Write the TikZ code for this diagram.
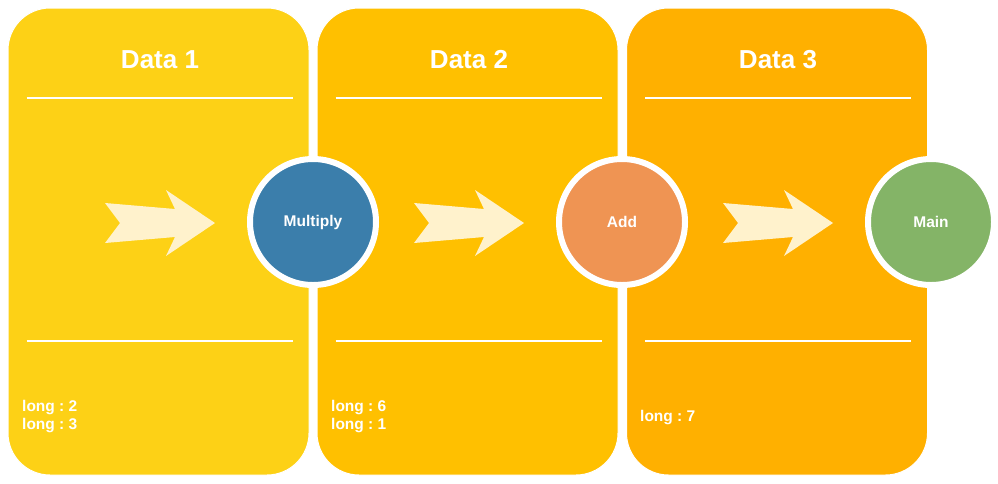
\documentclass[tikz,border=0pt]{standalone}
\usepackage{fontspec}
\setmainfont{Liberation Sans}
\usetikzlibrary{positioning,calc}
\definecolor{dataone}{HTML}{FDD116}
\definecolor{datatwo}{HTML}{FFC000}
\definecolor{datathree}{HTML}{FFB000}
\definecolor{mulblue}{HTML}{3B7EAB}
\definecolor{addorange}{HTML}{EF9453}
\definecolor{maingreen}{HTML}{84B467}
\definecolor{chevfill}{HTML}{FFF2CC}
\frenchspacing

\begin{document}
\begin{tikzpicture}[x=1pt, y=-1pt,
    panel/.style={draw=white, line width=1pt, rounded corners=42pt, minimum width=301pt, minimum height=467pt, inner sep=0pt},
    title/.style={text=white, font=\fontsize{26}{30}\selectfont\bfseries},
    sep/.style={draw=white, line width=2pt},
    opnode/.style={circle, draw=white, line width=6pt, minimum size=126pt, inner sep=0pt, text=white, font=\fontsize{15.5}{18}\selectfont\bfseries},
    vals/.style={anchor=west, align=left, inner sep=0pt, text=white, font=\fontsize{15.5}{18}\selectfont\bfseries},
    chevron/.style={fill=chevfill}]
    \useasboundingbox (0,0) rectangle (998,483);
    % panels
    \node[panel, fill=dataone] (data1) at (158.5,241.5) {};
    \node[panel, fill=datatwo] (data2) at (467.5,241.5) {};
    \node[panel, fill=datathree] (data3) at (777,241.5) {};
    % titles
    \node[title] (title1) at (160,60) {Data 1};
    \node[title] (title2) at (469,60) {Data 2};
    \node[title] (title3) at (778,60) {Data 3};
    % separator lines
    \foreach \p in {data1,data2,data3} {
        \draw[sep] ($(\p.north west)+(19,90)$) -- ($(\p.north east)+(-17,90)$);
        \draw[sep] ($(\p.north west)+(19,333)$) -- ($(\p.north east)+(-17,333)$);
    }
    % arrows
    \foreach \x in {105,414,723}
        \fill[chevron, shift={(\x,223)}] (0,-20) -- (15,0) -- (0,20) -- (70,14) -- (61,33) -- (110,0) -- (61,-33) -- (70,-14) -- cycle;
    % operations
    \node[opnode, fill=mulblue] (multiply) at (313,222) {Multiply};
    \node[opnode, fill=addorange] (add) at (622,222) {Add};
    \node[opnode, fill=maingreen] (main) at (931,222) {Main};
    % values
    \node[vals] (vals1) at (22,417) {long : 2\\long : 3};
    \node[vals] (vals2) at (331,417) {long : 6\\long : 1};
    \node[vals] (vals3) at (640,418) {long : 7};
\end{tikzpicture}
\end{document}
